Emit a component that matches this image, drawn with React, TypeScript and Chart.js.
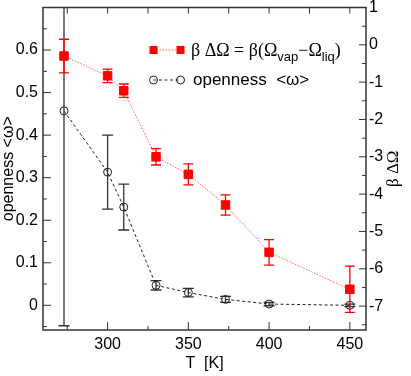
import React, { useEffect, useRef } from 'react';
import { Chart, registerables } from 'chart.js';

Chart.register(...registerables);

// ---- data ----
const temperatures = [273, 300, 310, 330, 350, 373, 400, 450];
const betaDeltaOmega = [-0.3, -0.83, -1.23, -3.0, -3.47, -4.29, -5.56, -6.55];
const betaDeltaOmegaErr = [0.45, 0.18, 0.18, 0.22, 0.28, 0.27, 0.34, 0.62];
const openness = [0.457, 0.313, 0.231, 0.047, 0.03, 0.014, 0.003, 0.0];
const opennessErr = [0.505, 0.087, 0.054, 0.011, 0.01, 0.007, 0.004, 0.003];

const xTicks = [300, 350, 400, 450];
const xMinorTicks = [275, 325, 375, 425];
const topTicks = [275, 300, 325, 350, 375, 400, 425, 450];
const leftTicks = [0, 0.1, 0.2, 0.3, 0.4, 0.5, 0.6];
const leftMinorTicks = [-0.05, 0.05, 0.15, 0.25, 0.35, 0.45, 0.55, 0.65];
const rightTicks = [1, 0, -1, -2, -3, -4, -5, -6, -7];
const rightMinorTicks = [0.5, -0.5, -1.5, -2.5, -3.5, -4.5, -5.5, -6.5, -7.5];

const SANS = '"Liberation Sans", Arial, sans-serif';
const SERIF = '"Liberation Serif", "Times New Roman", serif';
const FRAME = '#333';

function drawErrorBars(ctx: CanvasRenderingContext2D, xs: any, ys: any, vals: number[], errs: number[], color: string, cap: number, lw: number) {
  ctx.strokeStyle = color;
  ctx.lineWidth = lw;
  ctx.setLineDash([]);
  temperatures.forEach((t, i) => {
    const px = xs.getPixelForValue(t);
    const top = ys.getPixelForValue(vals[i] + errs[i]);
    const bot = ys.getPixelForValue(vals[i] - errs[i]);
    ctx.beginPath();
    ctx.moveTo(px, top);
    ctx.lineTo(px, bot);
    ctx.moveTo(px - cap / 2, top);
    ctx.lineTo(px + cap / 2, top);
    ctx.moveTo(px - cap / 2, bot);
    ctx.lineTo(px + cap / 2, bot);
    ctx.stroke();
  });
}

const customPlugin = {
  id: 'customDecor',
  beforeDatasetsDraw(chart: any) {
    const ctx = chart.ctx as CanvasRenderingContext2D;
    const { left, right, top, bottom } = chart.chartArea;
    ctx.save();
    ctx.beginPath();
    ctx.rect(left, top, right - left, bottom - top);
    ctx.clip();
    drawErrorBars(ctx, chart.scales.x, chart.scales.y, openness, opennessErr, '#333', 11, 1.3);
    drawErrorBars(ctx, chart.scales.x, chart.scales.y2, betaDeltaOmega, betaDeltaOmegaErr, '#ff0000', 10, 1.3);
    ctx.restore();
  },
  afterDraw(chart: any) {
    const ctx = chart.ctx as CanvasRenderingContext2D;
    const { left, right, top, bottom } = chart.chartArea;
    const xs = chart.scales.x, yl = chart.scales.y, yr = chart.scales.y2;
    ctx.save();
    // frame
    ctx.strokeStyle = FRAME;
    ctx.lineWidth = 1.5;
    ctx.setLineDash([]);
    ctx.strokeRect(left, top, right - left, bottom - top);
    // ticks
    ctx.lineWidth = 1;
    const tick = (x1: number, y1: number, x2: number, y2: number) => {
      ctx.beginPath(); ctx.moveTo(x1, y1); ctx.lineTo(x2, y2); ctx.stroke();
    };
    xTicks.forEach(v => { const p = xs.getPixelForValue(v); tick(p, bottom, p, bottom - 8); });
    xMinorTicks.forEach(v => { const p = xs.getPixelForValue(v); tick(p, bottom, p, bottom - 4); });
    topTicks.forEach(v => { const p = xs.getPixelForValue(v); tick(p, top, p, top + 6); });
    leftTicks.forEach(v => { const p = yl.getPixelForValue(v); tick(left, p, left + 8, p); });
    leftMinorTicks.forEach(v => { const p = yl.getPixelForValue(v); tick(left, p, left + 4, p); });
    rightTicks.forEach(v => { const p = yr.getPixelForValue(v); tick(right, p, right - 7, p); });
    rightMinorTicks.forEach(v => { const p = yr.getPixelForValue(v); tick(right, p, right - 4, p); });

    // axis titles
    ctx.fillStyle = '#000';
    ctx.textAlign = 'center';
    ctx.textBaseline = 'middle';
    ctx.font = `16px ${SANS}`;
    ctx.fillText('T  [K]', (left + right) / 2, 364);
    ctx.save();
    ctx.translate(9, (top + bottom) / 2);
    ctx.rotate(-Math.PI / 2);
    ctx.fillText('openness <ω>', 0, 0);
    ctx.restore();
    ctx.save();
    ctx.translate(394, (top + bottom) / 2);
    ctx.rotate(-Math.PI / 2);
    ctx.font = `17px ${SERIF}`;
    ctx.fillText('β ΔΩ', 0, 0);
    ctx.restore();

    // legend
    const sx1 = 153.5, sx2 = 180.5;
    const r1 = 50, r2 = 80;
    // row 1
    ctx.strokeStyle = 'rgba(255,40,40,0.75)';
    ctx.lineWidth = 1;
    ctx.setLineDash([1.5, 1.5]);
    tick(sx1, r1, sx2, r1);
    ctx.setLineDash([]);
    ctx.fillStyle = '#ff0000';
    [sx1, sx2].forEach(x => ctx.fillRect(x - 4, r1 - 4, 8, 8));
    // row 2
    ctx.strokeStyle = '#222';
    ctx.setLineDash([3, 2.5]);
    tick(sx1, r2, sx2, r2);
    ctx.setLineDash([]);
    [sx1, sx2].forEach(x => { ctx.beginPath(); ctx.arc(x, r2, 4, 0, Math.PI * 2); ctx.stroke(); });

    ctx.fillStyle = '#000';
    ctx.textAlign = 'left';
    ctx.textBaseline = 'alphabetic';
    let x = 191;
    const base1 = r1 + 6;
    const part = (txt: string, font: string, dy: number) => {
      ctx.font = font;
      ctx.fillText(txt, x, base1 + dy);
      x += ctx.measureText(txt).width;
    };
    part('β ΔΩ = β(Ω', `18px ${SERIF}`, 0);
    part('vap', `13px ${SANS}`, 5);
    part('−Ω', `18px ${SERIF}`, 0);
    part('liq', `13px ${SANS}`, 5);
    part(')', `18px ${SERIF}`, 0);

    ctx.font = `17px ${SANS}`;
    ctx.textBaseline = 'middle';
    ctx.fillText('openness  <ω>', 193, r2);
    ctx.restore();
  },
};

export default function App() {
  const ref = useRef<HTMLCanvasElement | null>(null);
  useEffect(() => {
    if (!ref.current) return;
    const chart = new Chart(ref.current, {
      type: 'line',
      data: {
        datasets: [
          {
            label: 'β ΔΩ',
            data: temperatures.map((t, i) => ({ x: t, y: betaDeltaOmega[i] })),
            yAxisID: 'y2',
            borderColor: 'rgba(255,40,40,0.75)',
            borderWidth: 1,
            borderDash: [1.5, 1.5],
            pointStyle: 'rect',
            pointRadius: 6,
            pointBackgroundColor: '#ff0000',
            pointBorderColor: '#ff0000',
            pointBorderWidth: 1,
            tension: 0,
          },
          {
            label: 'openness <ω>',
            data: temperatures.map((t, i) => ({ x: t, y: openness[i] })),
            yAxisID: 'y',
            borderColor: '#222',
            borderWidth: 1,
            borderDash: [3, 2.5],
            pointStyle: 'circle',
            pointRadius: 4,
            pointBackgroundColor: 'rgba(0,0,0,0)',
            pointBorderColor: '#222',
            pointBorderWidth: 1,
            tension: 0,
          },
        ],
      },
      options: {
        responsive: false,
        animation: false,
        devicePixelRatio: 1,
        events: [],
        layout: { padding: { top: 7.5, left: 0, right: 0, bottom: 0 } },
        plugins: { legend: { display: false }, tooltip: { enabled: false } },
        scales: {
          x: {
            type: 'linear',
            position: 'bottom',
            min: 260,
            max: 460,
            grid: { display: false, drawTicks: false },
            border: { display: false },
            afterBuildTicks: (s: any) => { s.ticks = xTicks.map(v => ({ value: v })); },
            afterFit: (s: any) => { s.height = 46; s.paddingLeft = 0; s.paddingRight = 0; },
            ticks: { padding: 5, color: '#000', font: { family: SANS, size: 16 }, maxRotation: 0, callback: (v: any) => String(v) },
          },
          y: {
            type: 'linear',
            position: 'left',
            min: -0.058,
            max: 0.7,
            grid: { display: false, drawTicks: false },
            border: { display: false },
            afterBuildTicks: (s: any) => { s.ticks = leftTicks.map(v => ({ value: v })); },
            afterFit: (s: any) => { s.width = 43; s.paddingTop = 0; s.paddingBottom = 0; },
            ticks: { padding: 5, color: '#000', font: { family: SANS, size: 16 }, callback: (v: any) => (v === 0 ? '0' : Number(v).toFixed(1)) },
          },
          y2: {
            type: 'linear',
            position: 'right',
            min: -7.64,
            max: 1,
            grid: { display: false, drawTicks: false },
            border: { display: false },
            afterBuildTicks: (s: any) => { s.ticks = rightTicks.map(v => ({ value: v })); },
            afterFit: (s: any) => { s.width = 45; s.paddingTop = 0; s.paddingBottom = 0; },
            ticks: { padding: 3, color: '#000', font: { family: SANS, size: 16 }, callback: (v: any) => String(v) },
          },
        },
      },
      plugins: [customPlugin],
    });
    return () => chart.destroy();
  }, []);
  return (
    <div style={{ position: 'fixed', left: 0, top: 0, width: 411, height: 376, background: '#fff' }}>
      <canvas ref={ref} width={411} height={376} />
    </div>
  );
}
